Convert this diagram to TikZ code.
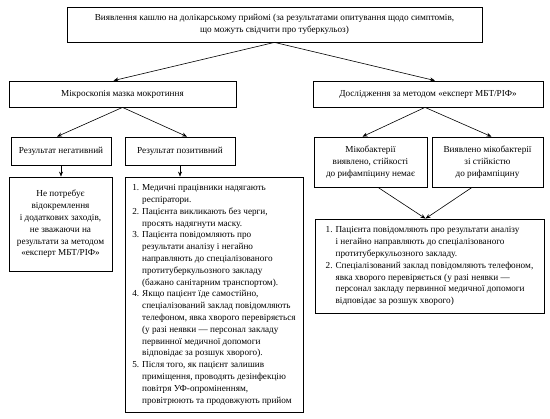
\documentclass[tikz,border=0pt]{standalone}
\usepackage{fontspec}
\setmainfont{Liberation Serif}
\usetikzlibrary{calc,arrows.meta}
\begin{document}
\begin{tikzpicture}[x=1pt,y=-1pt,
  box/.style={draw=black,line width=0.8pt,inner sep=2pt,align=center,
    font=\fontsize{9.2}{11.8}\selectfont},
  conn/.style={draw=black,line width=0.6pt,-{Stealth[length=5pt,width=4pt]}}]
\useasboundingbox (0,0) rectangle (550,419);
\fill[white] (0,0) rectangle (550,419);

\node[box,minimum width=415pt,minimum height=35pt] (top) at (274.5,24.5)
  {Виявлення кашлю на долікарському прийомі (за результатами опитування щодо симптомів,\\
   що можуть свідчити про туберкульоз)};

\node[box,minimum width=227pt,minimum height=26pt] (mic) at (122.5,94)
  {Мікроскопія мазка мокротиння};
\node[box,minimum width=230pt,minimum height=26pt] (dos) at (428,94)
  {Дослідження за методом «експерт МБТ/РІФ»};

\node[box,minimum width=100pt,minimum height=28pt] (neg) at (61,151)
  {Результат негативний};
\node[box,minimum width=110pt,minimum height=28pt] (pos) at (180,151)
  {Результат позитивний};

\node[box,minimum width=113pt,minimum height=50pt] (myk) at (370.5,162)
  {Мікобактерії\\ виявлено, стійкості\\ до рифампіцину немає};
\node[box,minimum width=111pt,minimum height=50pt] (vyy) at (487.5,162)
  {Виявлено мікобактерії\\ зі стійкістю\\ до рифампіцину};

\node[box,minimum width=103pt,minimum height=94pt] (negbox) at (60.5,224)
  {Не потребує\\ відокремлення\\ і додаткових заходів,\\ не зважаючи на\\ результати за методом\\ «експерт МБТ/РІФ»};

\node[box,minimum width=178pt,minimum height=235pt,align=left] (listbox) at (214,294.5)
  {\begin{tabular}{@{}r@{\hspace{3pt}}l@{}}
  1. & Медичні працівники надягають\\
     & респіратори.\\
  2. & Пацієнта викликають без черги,\\
     & просять надягнути маску.\\
  3. & Пацієнта повідомляють про\\
     & результати аналізу і негайно\\
     & направляють до спеціалізованого\\
     & протитуберкульозного закладу\\
     & (бажано санітарним транспортом).\\
  4. & Якщо пацієнт їде самостійно,\\
     & спеціалізований заклад повідомляють\\
     & телефоном, явка хворого перевіряється\\
     & (у разі неявки — персонал закладу\\
     & первинної медичної допомоги\\
     & відповідає за розшук хворого).\\
  5. & Після того, як пацієнт залишив\\
     & приміщення, проводять дезінфекцію\\
     & повітря УФ-опроміненням,\\
     & провітрюють та продовжують прийом
  \end{tabular}};

\node[box,minimum width=229pt,minimum height=94pt,align=left] (rbox) at (429.5,266)
  {\begin{tabular}{@{}r@{\hspace{3pt}}l@{}}
  1. & Пацієнта повідомляють про результати аналізу\\
     & і негайно направляють до спеціалізованого\\
     & протитуберкульозного закладу.\\
  2. & Спеціалізований заклад повідомляють телефоном,\\
     & явка хворого перевіряється (у разі неявки —\\
     & персонал закладу первинної медичної допомоги\\
     & відповідає за розшук хворого)
  \end{tabular}};

\draw[conn] (top.south) -- ($(mic.north)+(-9,0)$);
\draw[conn] (top.south) -- ($(dos.north)+(7,0)$);
\draw[conn] (mic.south) -- ($(neg.north)+(-4,0)$);
\draw[conn] (mic.south) -- ($(pos.north)+(7,0)$);
\draw[conn] ($(dos.south)+(-3,0)$) -- ($(myk.north)+(-8,0)$);
\draw[conn] ($(dos.south)+(-3,0)$) -- ($(vyy.north)+(4,0)$);
\draw[conn] (neg.south) -- (neg.south |- negbox.north);
\draw[conn] (pos.south) -- (pos.south |- listbox.north);
\draw[conn] ($(myk.south)+(7.5,0)$) -- ($(rbox.north)+(-4,0)$);
\draw[conn] ($(vyy.south)+(-15.5,0)$) -- ($(rbox.north)+(-4,0)$);
\end{tikzpicture}
\end{document}
